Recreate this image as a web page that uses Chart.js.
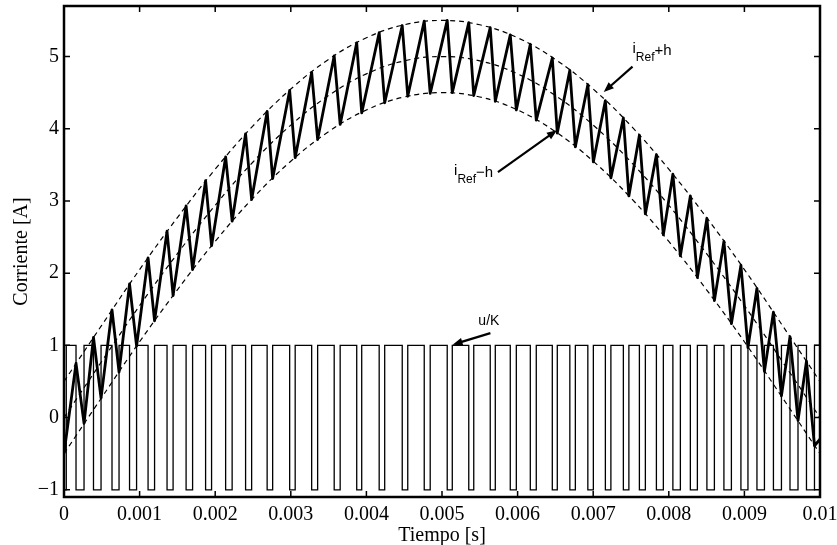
<!DOCTYPE html>
<html>
<head>
<meta charset="utf-8">
<script src="https://cdn.jsdelivr.net/npm/chart.js@4.4.1/dist/chart.umd.min.js"></script>
<style>
  html, body { margin: 0; padding: 0; background: #fff; }
  canvas { display: block; }
</style>
</head>
<body>
<canvas id="Chart" width="837" height="545"></canvas>
<script>
// tiempo en ms (las etiquetas del eje se muestran en s)
const xTickValues = [0, 1, 2, 3, 4, 5, 6, 7, 8, 9, 10];
const xTickLabels = ["0", "0.001", "0.002", "0.003", "0.004", "0.005", "0.006", "0.007", "0.008", "0.009", "0.01"];
const yTickValues = [-1, 0, 1, 2, 3, 4, 5];
const yTickLabels = ["\u22121", "0", "1", "2", "3", "4", "5"];

// corriente de referencia y banda de histéresis
const refTimes = [0, 0.5, 1, 1.5, 2, 2.5, 3, 3.5, 4, 4.5, 5, 5.5, 6, 6.5, 7, 7.5, 8, 8.5, 9, 9.5, 10];
const iRef = [0, 0.78, 1.55, 2.27, 2.94, 3.54, 4.05, 4.46, 4.76, 4.94, 5.0, 4.94, 4.76, 4.46, 4.05, 3.54, 2.94, 2.27, 1.55, 0.78, 0];
const iRefUpper = [0.5, 1.28, 2.05, 2.77, 3.44, 4.04, 4.55, 4.96, 5.26, 5.44, 5.5, 5.44, 5.26, 4.96, 4.55, 4.04, 3.44, 2.77, 2.05, 1.28, 0.5];
const iRefLower = [-0.5, 0.28, 1.05, 1.77, 2.44, 3.04, 3.55, 3.96, 4.26, 4.44, 4.5, 4.44, 4.26, 3.96, 3.55, 3.04, 2.44, 1.77, 1.05, 0.28, -0.5];

// corriente real: picos (u pasa a -1) y valles (u pasa a +1)
const iStart = -0.5;
const iEnd = -0.3;
const peakTimes = [0.159, 0.390, 0.635, 0.867, 1.112, 1.363, 1.615, 1.873, 2.138, 2.402, 2.687, 2.985, 3.276, 3.574, 3.872, 4.169, 4.474, 4.765, 5.069, 5.354, 5.638, 5.903, 6.168, 6.459, 6.691, 6.929, 7.161, 7.399, 7.611, 7.836, 8.054, 8.285, 8.504, 8.729, 8.954, 9.166, 9.384, 9.603, 9.821];
const peakValues = [0.75, 1.11, 1.49, 1.85, 2.21, 2.58, 2.93, 3.28, 3.61, 3.93, 4.24, 4.53, 4.78, 5.01, 5.19, 5.33, 5.43, 5.49, 5.50, 5.47, 5.40, 5.30, 5.17, 4.98, 4.81, 4.61, 4.39, 4.15, 3.91, 3.64, 3.37, 3.07, 2.76, 2.44, 2.11, 1.79, 1.46, 1.12, 0.78];
const troughTimes = [0.265, 0.490, 0.728, 0.960, 1.198, 1.443, 1.701, 1.952, 2.224, 2.482, 2.760, 3.058, 3.355, 3.653, 3.938, 4.242, 4.547, 4.844, 5.136, 5.420, 5.705, 5.983, 6.247, 6.525, 6.764, 7.002, 7.234, 7.472, 7.690, 7.928, 8.153, 8.378, 8.603, 8.828, 9.047, 9.265, 9.490, 9.709, 9.927];
const troughValues = [-0.08, 0.27, 0.63, 0.99, 1.34, 1.69, 2.05, 2.38, 2.72, 3.02, 3.31, 3.60, 3.85, 4.06, 4.22, 4.36, 4.45, 4.49, 4.50, 4.46, 4.38, 4.26, 4.12, 3.94, 3.75, 3.54, 3.32, 3.07, 2.82, 2.53, 2.24, 1.94, 1.62, 1.30, 0.97, 0.64, 0.30, -0.04, -0.39];
const uHigh = 1;
const uLow = -1;

const tEnd = xTickValues[xTickValues.length - 1];

function curve(ts, vs) {
  return ts.map((t, i) => ({ x: t, y: vs[i] }));
}

// zigzag de la corriente
const current = [{ x: 0, y: iStart }];
peakTimes.forEach((t, i) => {
  current.push({ x: t, y: peakValues[i] });
  current.push({ x: troughTimes[i], y: troughValues[i] });
});
current.push({ x: tEnd, y: iEnd });

// señal de control u/K
const control = [{ x: 0, y: uLow }, { x: 0.03, y: uLow }, { x: 0.03, y: uHigh }];
peakTimes.forEach((t, i) => {
  control.push({ x: t, y: uHigh }, { x: t, y: uLow });
  control.push({ x: troughTimes[i], y: uLow }, { x: troughTimes[i], y: uHigh });
});
control.push({ x: tEnd, y: uHigh });

const serif = "'Liberation Serif', 'DejaVu Serif', serif";
const sans = "'Liberation Sans', Arial, sans-serif";

function dashed(data) {
  return {
    data: data,
    borderColor: "#000",
    borderWidth: 1.2,
    borderDash: [5, 4],
    pointRadius: 0,
    showLine: true,
    fill: false,
    tension: 0.4,
  };
}

function arrow(ctx, x1, y1, x2, y2) {
  const a = Math.atan2(y2 - y1, x2 - x1);
  ctx.beginPath();
  ctx.moveTo(x1, y1);
  ctx.lineTo(x2 - 6 * Math.cos(a), y2 - 6 * Math.sin(a));
  ctx.lineWidth = 2.2;
  ctx.stroke();
  ctx.beginPath();
  ctx.moveTo(x2, y2);
  ctx.lineTo(x2 - 10 * Math.cos(a) + 4 * Math.sin(a), y2 - 10 * Math.sin(a) - 4 * Math.cos(a));
  ctx.lineTo(x2 - 10 * Math.cos(a) - 4 * Math.sin(a), y2 - 10 * Math.sin(a) + 4 * Math.cos(a));
  ctx.closePath();
  ctx.fill();
}

function iLabel(ctx, x, y, tail) {
  ctx.textBaseline = "alphabetic";
  ctx.textAlign = "left";
  ctx.font = "15px " + sans;
  ctx.fillText("i", x, y);
  let w = ctx.measureText("i").width;
  ctx.font = "12px " + sans;
  ctx.fillText("Ref", x + w, y + 8);
  w += ctx.measureText("Ref").width;
  ctx.font = "15px " + sans;
  ctx.fillText(tail, x + w, y + 2);
}

const notes = {
  id: "notes",
  afterDatasetsDraw(chart) {
    const { ctx, scales: { x, y } } = chart;
    const X = (v) => x.getPixelForValue(v);
    const Y = (v) => y.getPixelForValue(v);
    ctx.save();
    ctx.fillStyle = "#000";
    ctx.strokeStyle = "#000";
    iLabel(ctx, X(7.52), Y(5.05), "+h");
    arrow(ctx, X(7.52), Y(4.86), X(7.14), Y(4.51));
    iLabel(ctx, X(5.16), Y(3.36), "\u2212h");
    arrow(ctx, X(5.74), Y(3.40), X(6.52), Y(3.98));
    ctx.font = "14px " + sans;
    ctx.textAlign = "center";
    ctx.textBaseline = "middle";
    ctx.fillText("u/K", X(5.62), Y(1.33));
    arrow(ctx, X(5.64), Y(1.17), X(5.14), Y(1.01));
    ctx.restore();
  },
};

const frame = {
  id: "frame",
  afterDraw(chart) {
    const { ctx, chartArea: a, scales: { x, y } } = chart;
    ctx.save();
    ctx.strokeStyle = "#000";
    ctx.lineWidth = 1.5;
    ctx.beginPath();
    x.ticks.forEach((t) => {
      const px = x.getPixelForValue(t.value);
      ctx.moveTo(px, a.bottom);
      ctx.lineTo(px, a.bottom - 6);
      ctx.moveTo(px, a.top);
      ctx.lineTo(px, a.top + 6);
    });
    y.ticks.forEach((t) => {
      const py = y.getPixelForValue(t.value);
      ctx.moveTo(a.left, py);
      ctx.lineTo(a.left + 6, py);
      ctx.moveTo(a.right, py);
      ctx.lineTo(a.right - 6, py);
    });
    ctx.stroke();
    ctx.lineWidth = 2.5;
    ctx.strokeRect(a.left, a.top, a.right - a.left, a.bottom - a.top);
    ctx.restore();
  },
};

const c = document.getElementById("Chart");
new Chart(c, {
  type: "scatter",
  data: {
    datasets: [
      {
        data: current,
        borderColor: "#000",
        borderWidth: 2.8,
        borderJoinStyle: "round",
        pointRadius: 0,
        showLine: true,
        fill: false,
      },
      {
        data: control,
        borderColor: "#000",
        borderWidth: 1.3,
        pointRadius: 0,
        showLine: true,
        fill: false,
      },
      dashed(curve(refTimes, iRefUpper)),
      dashed(curve(refTimes, iRef)),
      dashed(curve(refTimes, iRefLower)),
    ],
  },
  options: {
    responsive: false,
    animation: false,
    layout: { padding: { top: 6, right: 17, left: 0, bottom: 0 } },
    plugins: {
      legend: { display: false },
      tooltip: { enabled: false },
    },
    scales: {
      x: {
        type: "linear",
        min: 0,
        max: 10,
        afterBuildTicks: (s) => { s.ticks = xTickValues.map((v) => ({ value: v })); },
        afterFit: (s) => { s.height = 48; s.paddingLeft = 0; s.paddingRight = 0; },
        grid: { display: false, drawTicks: false },
        border: { display: false },
        ticks: {
          color: "#000",
          padding: 6,
          maxRotation: 0,
          font: { family: serif, size: 20 },
          callback: (v, i) => xTickLabels[i],
        },
        title: {
          display: true,
          text: "Tiempo [s]",
          color: "#000",
          padding: { top: 0, bottom: -3 },
          font: { family: serif, size: 20 },
        },
      },
      y: {
        type: "linear",
        min: -1.1,
        max: 5.7,
        afterBuildTicks: (s) => { s.ticks = yTickValues.map((v) => ({ value: v })); },
        afterFit: (s) => { s.width = 64; s.paddingTop = 0; s.paddingBottom = 0; },
        grid: { display: false, drawTicks: false },
        border: { display: false },
        ticks: {
          color: "#000",
          padding: 5,
          font: { family: serif, size: 20 },
          callback: (v, i) => yTickLabels[i],
        },
        title: {
          display: true,
          text: "Corriente [A]",
          color: "#000",
          padding: { top: 10, bottom: 0 },
          font: { family: serif, size: 20 },
        },
      },
    },
  },
  plugins: [notes, frame],
});
</script>
</body>
</html>
